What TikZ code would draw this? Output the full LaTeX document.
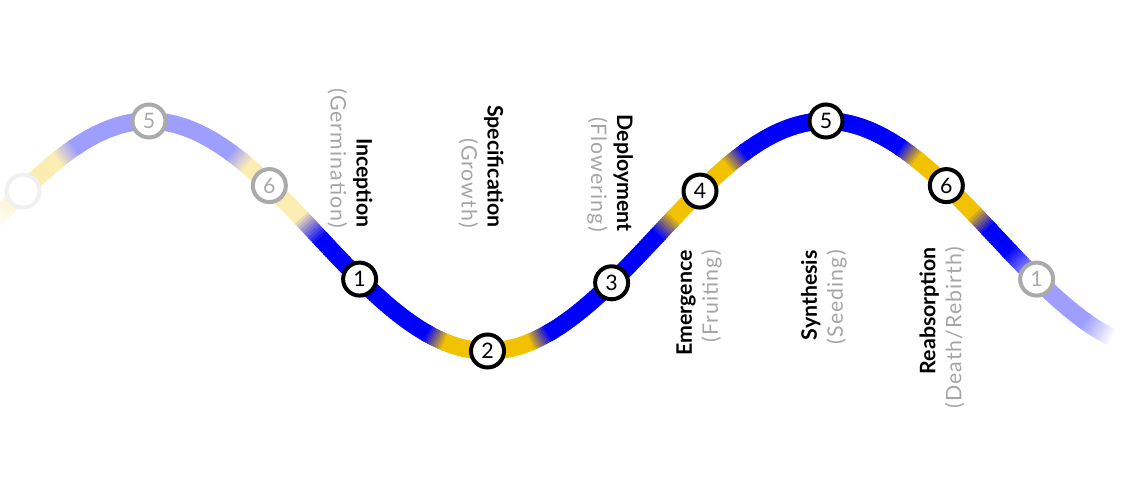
\documentclass[tikz,border=0pt]{standalone}
\usepackage{fontspec}
\setmainfont{Lato}
\newfontfamily\subfont[LetterSpace=5]{Lato}
\usetikzlibrary{calc}

\definecolor{cycblue}{RGB}{0,0,255}
\definecolor{cycyellow}{RGB}{242,194,0}
\colorlet{paleblue}{cycblue!38!white}
\colorlet{paleyellow}{cycyellow!30!white}
\definecolor{lblgray}{RGB}{165,165,165}
\definecolor{ghostgray}{RGB}{170,170,170}

\begin{document}
\begin{tikzpicture}[x=0.75pt,y=-0.75pt,
  declare function={wx(\s)=149+\s/360*677; wy(\s)=236-115*cos(\s);},
  wave/.style={line width=13pt,line cap=butt},
  stagenode/.style={circle,draw=black,fill=white,line width=3pt,minimum size=24.75pt,
    inner sep=0pt,font=\fontsize{16}{16}\selectfont},
  ghostnode/.style={stagenode,draw=ghostgray,text=ghostgray},
  stagelbl/.style={align=right,inner sep=0pt,font=\fontsize{16}{19.5}\selectfont\bfseries}]
  \useasboundingbox (0,0) rectangle (1123,497);

  % colour bands along the wave
  \foreach \a/\b/\ca/\cb in {-85/-64/white/paleyellow, -64/-49/paleyellow/paleyellow,
      -49/-40/paleyellow/paleblue, -40/43/paleblue/paleblue, 43/52/paleblue/paleyellow,
      52/80/paleyellow/paleyellow, 80/91/paleyellow/cycblue, 91/147/cycblue/cycblue,
      147/157/cycblue/cycyellow, 157/202/cycyellow/cycyellow, 202/212/cycyellow/cycblue,
      212/270/cycblue/cycblue, 270/279/cycblue/cycyellow, 279/307/cycyellow/cycyellow,
      307/316/cycyellow/cycblue, 316/399/cycblue/cycblue, 399/408/cycblue/cycyellow,
      408/438/cycyellow/cycyellow, 438/446/cycyellow/cycblue, 446/457/cycblue/cycblue,
      457/468/cycblue/paleblue, 468/497/paleblue/paleblue, 497/512/paleblue/white}{
    \pgfmathtruncatemacro\n{\b-\a}
    \foreach \i in {0,...,\n}{
      \pgfmathsetmacro\ph{\a+\i}
      \pgfmathtruncatemacro\pc{100-100*\i/\n}
      \draw[wave,draw=\ca!\pc!\cb] ({wx(\ph)},{wy(\ph)}) -- ({wx(\ph+1.6)},{wy(\ph+1.6)});
    }
  }

  % stages
  \node[ghostnode,draw=black!6] (g4) at ({wx(-67)},{wy(-67)}) {};
  \node[ghostnode] (g5) at ({wx(0)},{wy(0)}) {5};
  \node[ghostnode] (g6) at ({wx(64)},{wy(64)}) {6};
  \node[stagenode] (s1) at ({wx(112)},{wy(112)}) {1};
  \node[stagenode] (s2) at ({wx(180)},{wy(180)}) {2};
  \node[stagenode] (s3) at ({wx(246)},{wy(246)}) {3};
  \node[stagenode] (s4) at ({wx(293)},{wy(293)}) {4};
  \node[stagenode] (s5) at ({wx(360)},{wy(360)}) {5};
  \node[stagenode] (s6) at ({wx(424)},{wy(424)}) {6};
  \node[ghostnode] (g1) at ({wx(472)},{wy(472)}) {1};

  % labels
  \node[stagelbl,rotate=-90,anchor=east] (l1) at (350,228)
    {Inception\\\textcolor{lblgray}{\mdseries\subfont(Germination)}};
  \node[stagelbl,rotate=-90,anchor=east] (l2) at (481,228)
    {Specification\\\textcolor{lblgray}{\mdseries\subfont(Growth)}};
  \node[stagelbl,rotate=-90,anchor=east] (l3) at (610,232)
    {Deployment\\\textcolor{lblgray}{\mdseries\subfont(Flowering)}};
  \node[stagelbl,rotate=90,anchor=east] (l4) at (699,250)
    {Emergence\\\textcolor{lblgray}{\mdseries\subfont(Fruiting)}};
  \node[stagelbl,rotate=90,anchor=east] (l5) at (824,250)
    {Synthesis\\\textcolor{lblgray}{\mdseries\subfont(Seeding)}};
  \node[stagelbl,rotate=90,anchor=east] (l6) at (942,247)
    {Reabsorption\\\textcolor{lblgray}{\mdseries\subfont(Death/Rebirth)}};
\end{tikzpicture}
\end{document}
